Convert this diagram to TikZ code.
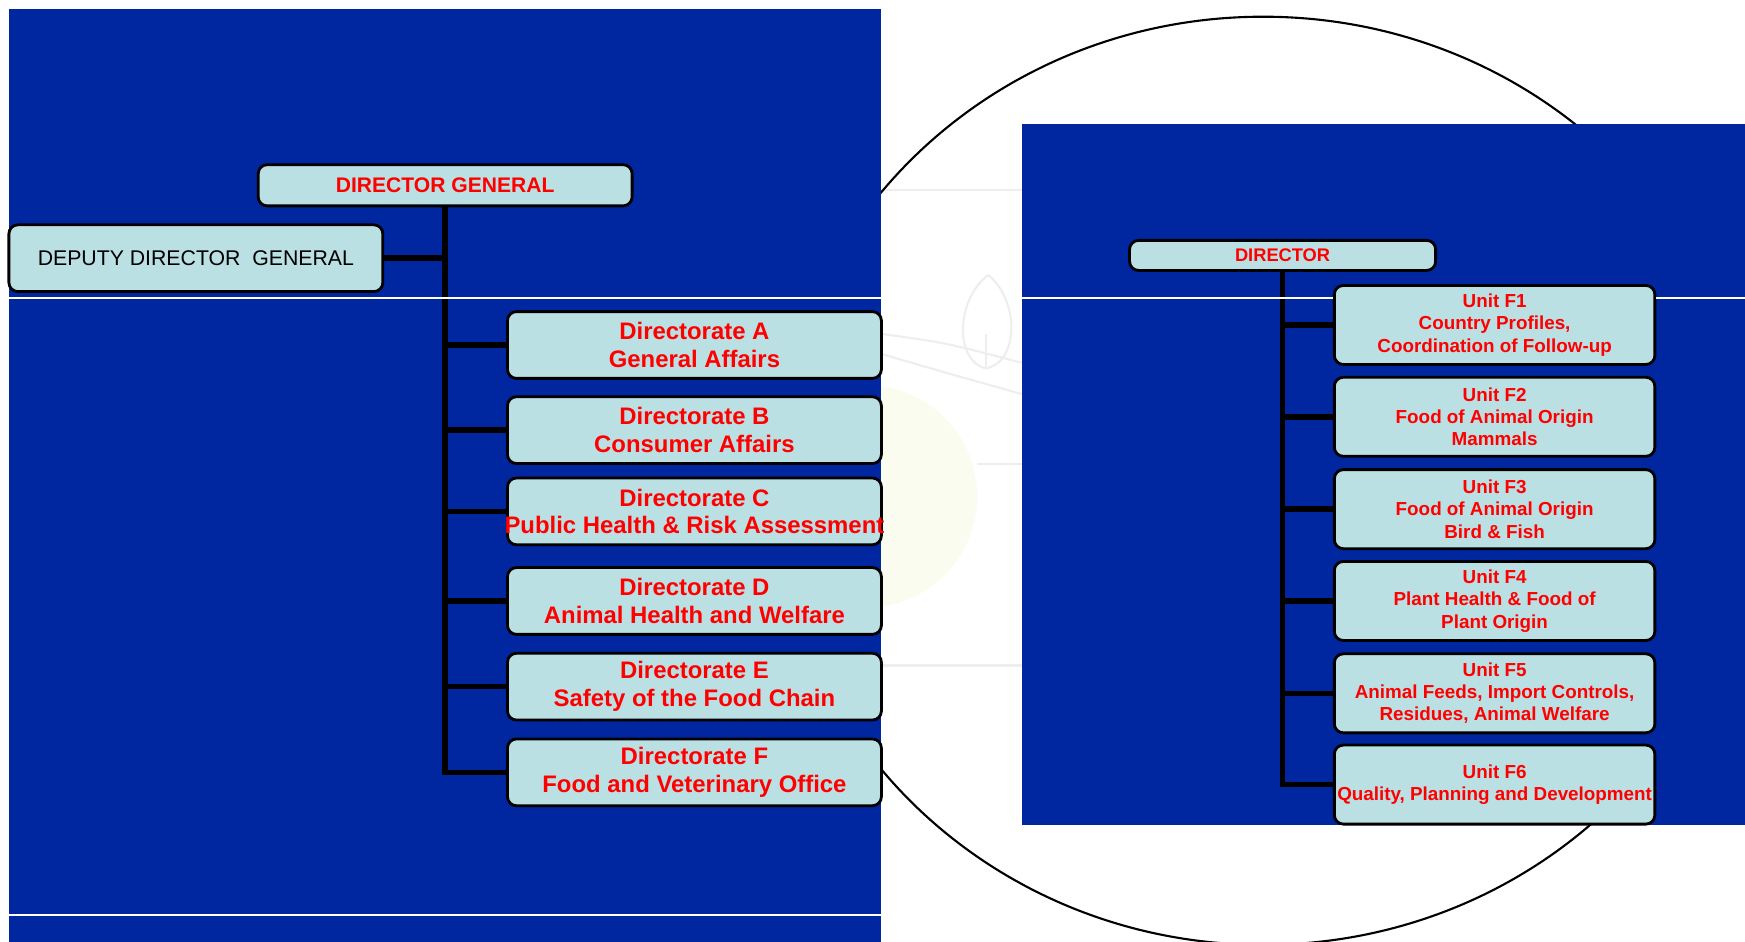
\documentclass[tikz,border=0pt]{standalone}
\usepackage{fontspec}
\setmainfont{Liberation Sans}
\usetikzlibrary{positioning}
\definecolor{panelblue}{RGB}{0,38,160}
\definecolor{boxcyan}{RGB}{187,224,227}
\definecolor{wmgray}{RGB}{238,238,238}
\definecolor{wmyellow}{RGB}{250,252,240}
\tikzset{
  box/.style={draw=black,line width=0.8pt,rounded corners=0.9mm,fill=boxcyan,inner sep=0pt,align=center},
  dirbox/.style={box,minimum width=336*0.11129mm,minimum height=60*0.11129mm,text=red,font=\fontsize{6.8}{7.9}\selectfont\bfseries},
  unitbox/.style={box,minimum width=288*0.11129mm,minimum height=71*0.11129mm,text=red,font=\fontsize{5.36}{6.33}\selectfont\bfseries},
  trunk/.style={line width=1.6pt,black},
  rule/.style={white,line width=0.5pt}
}
\begin{document}
\begin{tikzpicture}[x=0.11129mm,y=-0.11129mm]
\useasboundingbox (0,0) rectangle (1568,846);
\fill[white] (0,0) rectangle (1568,846);
% faint watermark
\fill[wmyellow] (778,446) circle (100);
\draw[wmgray,line width=0.6pt] (792,171) -- (918,171);
\draw[wmgray,line width=0.6pt] (878,417) -- (918,417);
\draw[wmgray,line width=0.6pt] (792,598) -- (918,598);
\draw[wmgray,line width=0.6pt] (792,300) .. controls (850,308) .. (918,326);
\draw[wmgray,line width=0.6pt] (792,318) .. controls (850,335) .. (918,354);
\draw[wmgray,line width=0.6pt] (888,247) .. controls (858,270) and (858,325) .. (886,331) .. controls (916,325) and (916,270) .. (888,247);
\draw[wmgray,line width=0.6pt] (886,331) -- (886,300);
\draw[black,line width=0.6pt] (1135,432) ellipse (438 and 417);
% panels
\fill[panelblue] (8,8) rectangle (792,846);
\fill[panelblue] (918,111) rectangle (1568,741);

% left chart
\node[box,minimum width=336*0.11129mm,minimum height=37*0.11129mm,text=red,font=\fontsize{6.0}{7}\selectfont\bfseries] (dg) at (400,166.5) {DIRECTOR GENERAL};
\node[box,minimum width=336*0.11129mm,minimum height=60*0.11129mm,font=\fontsize{6.05}{7}\selectfont] (dep) at (176,232) {DEPUTY DIRECTOR\ \ GENERAL};
\node[dirbox] (dirA) at (624,310) {Directorate A\\General Affairs};
\node[dirbox] (dirB) at (624,386.5) {Directorate B\\Consumer Affairs};
\node[dirbox,inner xsep=-3.5*0.11129mm] (dirC) at (624,459.5) {Directorate C\\Public Health \& Risk Assessment};
\node[dirbox] (dirD) at (624,540) {Directorate D\\Animal Health and Welfare};
\node[dirbox] (dirE) at (624,617) {Directorate E\\Safety of the Food Chain};
\node[dirbox] (dirF) at (624,694) {Directorate F\\Food and Veterinary Office};

% right chart
\node[box,minimum width=275*0.11129mm,minimum height=27*0.11129mm,text=red,font=\fontsize{5.2}{6}\selectfont\bfseries] (dir) at (1152.5,229.5) {DIRECTOR};
\node[unitbox] (unitA) at (1343,292) {Unit F1\\Country Profiles,\\Coordination of Follow-up};
\node[unitbox] (unitB) at (1343,374.5) {Unit F2\\Food of Animal Origin\\Mammals};
\node[unitbox] (unitC) at (1343,457.5) {Unit F3\\Food of Animal Origin\\Bird \& Fish};
\node[unitbox] (unitD) at (1343,540) {Unit F4\\Plant Health \& Food of\\Plant Origin};
\node[unitbox] (unitE) at (1343,623) {Unit F5\\Animal Feeds, Import Controls,\\Residues, Animal Welfare};
\node[unitbox] (unitF) at (1343,705) {Unit F6\\Quality, Planning and Development};

% connectors
\draw[trunk] (dg.south) |- (dirF.west);
\draw[trunk] (dep.east) -- (dg.south |- dep.east);
\draw[trunk] (dg.south |- dirA.west) -- (dirA.west);
\draw[trunk] (dg.south |- dirB.west) -- (dirB.west);
\draw[trunk] (dg.south |- dirC.west) -- (dirC.west);
\draw[trunk] (dg.south |- dirD.west) -- (dirD.west);
\draw[trunk] (dg.south |- dirE.west) -- (dirE.west);
\draw[trunk] (dir.south) |- (unitF.west);
\draw[trunk] (dir.south |- unitA.west) -- (unitA.west);
\draw[trunk] (dir.south |- unitB.west) -- (unitB.west);
\draw[trunk] (dir.south |- unitC.west) -- (unitC.west);
\draw[trunk] (dir.south |- unitD.west) -- (unitD.west);
\draw[trunk] (dir.south |- unitE.west) -- (unitE.west);
\draw[rule] (8,268) -- (792,268);
\draw[rule] (8,822) -- (792,822);
\draw[rule] (918,268) -- (unitA.west |- 0,268);
\draw[rule] (unitA.east |- 0,268) -- (1568,268);
\end{tikzpicture}
\end{document}
